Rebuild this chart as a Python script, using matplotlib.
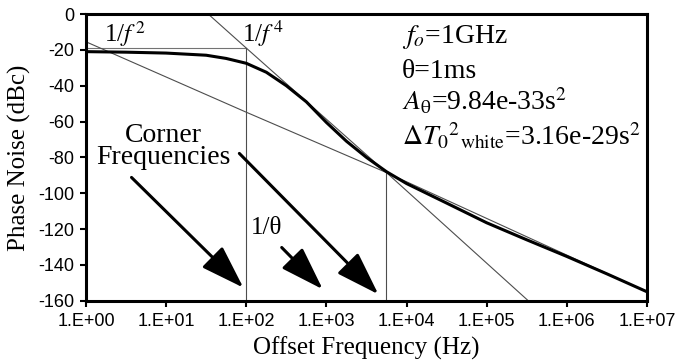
import matplotlib
matplotlib.use("Agg")
import matplotlib.pyplot as plt

plt.rcParams["font.family"] = ["Liberation Serif", "DejaVu Serif"]
plt.rcParams["mathtext.fontset"] = "stix"

# total phase noise (thick curve)
freq = [1, 3.16, 10, 31.6, 56.2, 100, 178, 316, 562, 1000, 1780,
        3160, 5620, 1e4, 3.16e4, 1e5, 3.16e5, 1e6, 3.16e6, 1e7]
noise = [-21.0, -21.3, -21.8, -23.0, -24.8, -27.5, -32.5, -40.0, -49.0, -60.5,
         -71.0, -80.0, -88.0, -94.6, -105.5, -116.5, -126.0, -135.3, -145.0, -155.0]

# asymptotes
f2_freq = [1, 100, 5620, 1e7]
f2_level = [-15.5, -54.8, -88.5, -155.0]
f4_freq = [33.5, 100, 5620, 3.3e5]
f4_level = [0, -19.0, -88.5, -160.0]

# corner marker lines
corner1 = 100
corner2 = 5620
plateau = -19.0
corner2_level = -88.5

xticks = [1, 1e1, 1e2, 1e3, 1e4, 1e5, 1e6, 1e7]
xlabels = ["1.E+00", "1.E+01", "1.E+02", "1.E+03", "1.E+04", "1.E+05", "1.E+06", "1.E+07"]
yticks = [0, -20, -40, -60, -80, -100, -120, -140, -160]
ylabels = ["0", "-20", "-40", "-60", "-80", "-100", "-120", "-140", "-160"]

fig = plt.figure(figsize=(6.78, 3.62), dpi=100)
ax = fig.add_axes([0.1268, 0.1693, 0.8274, 0.792])

ax.plot([1, corner1], [plateau, plateau], color="0.45", lw=0.8)
ax.plot([corner1, corner1], [plateau, -160], color="0.3", lw=0.8)
ax.plot([corner2, corner2], [corner2_level, -160], color="0.3", lw=0.8)
ax.plot(f2_freq, f2_level, color="0.3", lw=0.8)
ax.plot(f4_freq, f4_level, color="0.3", lw=0.8)
ax.plot(freq, noise, color="black", lw=2.2)

ax.set_xscale("log")
ax.set_xlim(1, 1e7)
ax.set_ylim(-160, 0)
ax.set_xticks(xticks)
ax.set_xticklabels(xlabels, family="Liberation Sans", fontsize=13)
ax.set_yticks(yticks)
ax.set_yticklabels(ylabels, family="Liberation Sans", fontsize=13)
ax.minorticks_off()
ax.tick_params(direction="out", length=4.5, width=1.5, pad=4)
for s in ax.spines.values():
    s.set_linewidth(2.2)

ax.set_xlabel("Offset Frequency (Hz)", fontsize=18, labelpad=5)
ax.set_ylabel("Phase Noise (dBc)", fontsize=18, labelpad=5)

# labels on the plot
ax.text(1.68, -11, r"1/$f^{\,2}$", fontsize=18, va="center")
ax.text(88, -11, r"1/$f^{\,4}$", fontsize=18, va="center")
ax.text(9.2, -74, "Corner\nFrequencies", fontsize=20, ha="center", va="center",
        linespacing=0.85)
ax.text(114, -119.5, "1/θ", fontsize=18, va="center")

info = [r"$f_o$=1GHz",
        "θ=1ms",
        r"$A_{\mathrm{\theta}}$=9.84e-33s$^2$",
        r"$\Delta T_{0}{}^{2}{}_{\mathrm{white}}$=3.16e-29s$^2$"]
info_y = [-16.2, -35.8, -53.6, -73.2]
for s, y in zip(info, info_y):
    ax.text(0.563, y, s, fontsize=20, transform=ax.get_yaxis_transform(),
            va="baseline")

arrows = [((3.7, -91.2), (92, -152.7)),
          ((82, -77.8), (4450, -156.4)),
          ((277, -130.3), (900, -153.6))]
for tail, tip in arrows:
    ax.annotate("", xy=tip, xytext=tail,
                arrowprops=dict(arrowstyle="-|>,head_length=27,head_width=9",
                                mutation_scale=1, color="black", lw=2.2,
                                shrinkA=0, shrinkB=0))

fig.savefig("out.png", dpi=100)
